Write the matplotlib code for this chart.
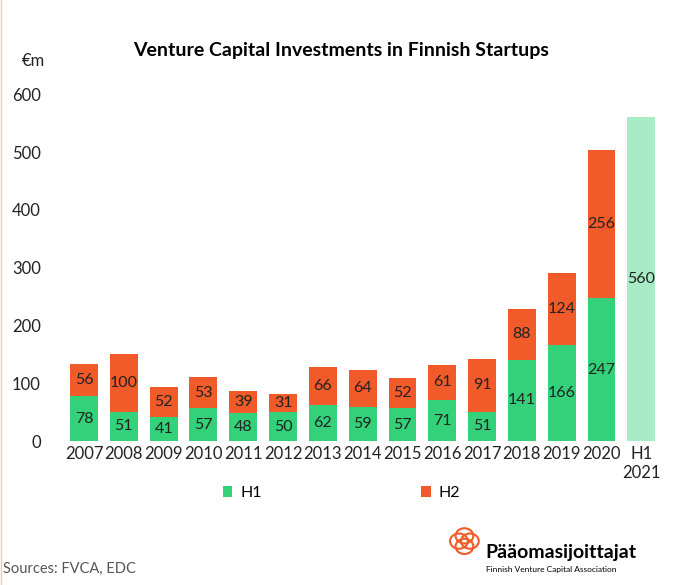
import matplotlib.pyplot as plt
from matplotlib.patches import Circle

years = ["2007", "2008", "2009", "2010", "2011", "2012", "2013", "2014",
         "2015", "2016", "2017", "2018", "2019", "2020", "H1\n2021"]
h1 = [78, 51, 41, 57, 48, 50, 62, 59, 57, 71, 51, 141, 166, 247, 560]
h2 = [56, 100, 52, 53, 39, 31, 66, 64, 52, 61, 91, 88, 124, 256, 0]

green = "#33d17a"
orange = "#f15a29"
light = "#a8ecc6"

plt.rcParams["font.family"] = "Lato"
fig = plt.figure(figsize=(6.83, 5.85), dpi=100)
ax = fig.add_axes([0.088, 0.246, 0.886, 0.593])

x = range(len(years))
cols = [green] * (len(years) - 1) + [light]
ax.bar(x, h1, width=0.7, color=cols, label="H1")
ax.bar(list(x)[:-1], h2[:-1], width=0.7, bottom=h1[:-1], color=orange, label="H2")
for i in x:
    ax.text(i, h1[i] / 2, str(h1[i]), ha="center", va="center", fontsize=11.5, color="#222")
    if h2[i]:
        ax.text(i, h1[i] + h2[i] / 2, str(h2[i]), ha="center", va="center", fontsize=11.5, color="#222")

ax.set_xlim(-0.6, len(years) - 0.4)
ax.set_ylim(0, 600)
ax.set_yticks(range(0, 601, 100))
ax.set_xticks(list(x))
ax.set_xticklabels(years)
ax.tick_params(length=0, labelsize=12, colors="#222")
ax.tick_params(axis="y", pad=14)
for s in ax.spines.values():
    s.set_visible(False)

fig.text(0.5, 0.905, "Venture Capital Investments in Finnish Startups", ha="center",
         fontsize=14, fontweight="bold")
fig.text(0.032, 0.887, "€m", fontsize=12, color="#222")

hand, lab = ax.get_legend_handles_labels()
fig.legend(hand, lab, loc="center", bbox_to_anchor=(0.5, 0.157), ncol=2, frameon=False,
           fontsize=11.5, handlelength=0.6, handleheight=0.6, handletextpad=0.5,
           columnspacing=10)

fig.text(0.005, 0.02, "Sources: FVCA, EDC", fontsize=10.5, color="#555")
fig.text(0.71, 0.047, "Pääomasijoittajat", fontsize=14, fontweight="bold")
fig.text(0.712, 0.022, "Finnish Venture Capital Association", fontsize=6)
for dx, dy in [(-0.008, 0), (0.008, 0), (0, 0.009), (0, -0.009)]:
    fig.patches.append(Circle((0.68 + dx, 0.075 + dy), 0.013, transform=fig.transFigure,
                              fill=False, edgecolor=orange, lw=1.5))
fig.add_artist(plt.Line2D([0.002, 0.002], [0, 1], color="#f7c6b0", lw=1))

fig.savefig("out.png", dpi=100)
